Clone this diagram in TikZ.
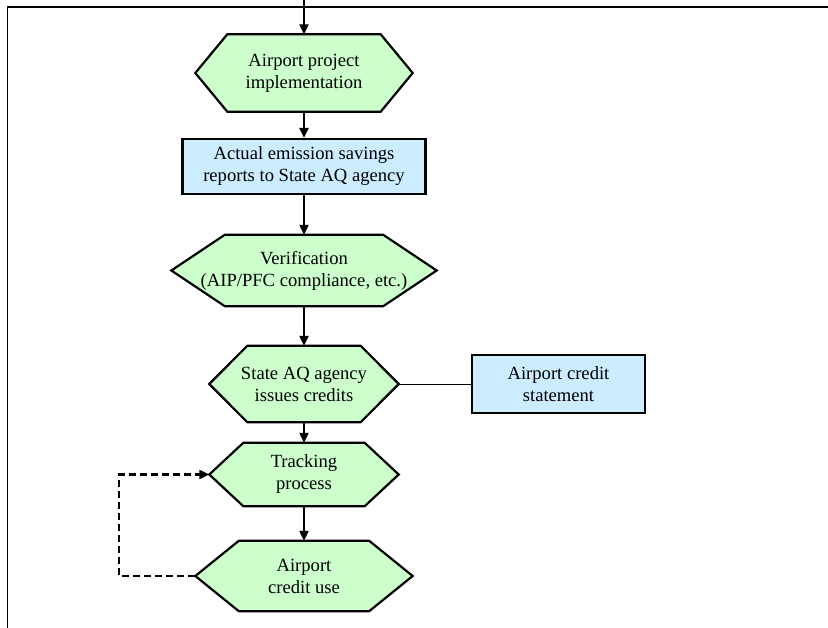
\documentclass[tikz,border=0pt]{standalone}
\usepackage{fontspec}
\setmainfont{Liberation Serif}
\usetikzlibrary{calc,arrows.meta,backgrounds}
\definecolor{hexgreen}{RGB}{204,255,204}
\definecolor{boxblue}{RGB}{204,236,255}
\newcommand{\thickness}{2.2pt}
\newcommand{\tip}{Triangle[length=10pt,width=9pt]}

\begin{document}
\begin{tikzpicture}[x=1pt,y=-1pt,
  hex/.style={inner sep=0pt,align=center,font=\fontsize{18.6}{22}\selectfont},
  box/.style={draw,fill=boxblue,line width=\thickness,inner sep=0pt,align=center,font=\fontsize{18.6}{22}\selectfont},
  flow/.style={line width=\thickness,-{\tip}}]
\useasboundingbox (0,0) rectangle (828,628);
\draw[line width=1.5pt] (7.5,628) -- (7.5,7) -- (828,7);
\coordinate (entry) at (304,0);
\node[hex,minimum width=217,minimum height=77] (impl) at (304,73) {Airport project\\implementation};
\node[box,minimum width=243,minimum height=55] (savings) at (304,166.5) {Actual emission savings\\reports to State AQ agency};
\node[hex,minimum width=265,minimum height=71] (verif) at (304,270.5) {Verification\\(AIP/PFC compliance, etc.)};
\node[hex,minimum width=189,minimum height=76] (issue) at (304,384) {State AQ agency\\issues credits};
\node[box,minimum width=173,minimum height=58] (stmt) at (558.5,384) {Airport credit\\statement};
\node[hex,minimum width=189,minimum height=63] (track) at (304,474.5) {Tracking\\process};
\node[hex,minimum width=217,minimum height=70] (use) at (304,576) {Airport\\credit use};
%hexagons
\begin{scope}[on background layer]
\filldraw[fill=hexgreen,line width=\thickness] (impl.west) -- ($(impl.north west)+(32,0)$) -- ($(impl.north east)+(-32,0)$) -- (impl.east) -- ($(impl.south east)+(-32,0)$) -- ($(impl.south west)+(32,0)$) -- cycle;
\filldraw[fill=hexgreen,line width=\thickness] (verif.west) -- ($(verif.north west)+(53.5,0)$) -- ($(verif.north east)+(-53.5,0)$) -- (verif.east) -- ($(verif.south east)+(-53.5,0)$) -- ($(verif.south west)+(53.5,0)$) -- cycle;
\filldraw[fill=hexgreen,line width=\thickness] (issue.west) -- ($(issue.north west)+(38,0)$) -- ($(issue.north east)+(-38,0)$) -- (issue.east) -- ($(issue.south east)+(-38,0)$) -- ($(issue.south west)+(38,0)$) -- cycle;
\filldraw[fill=hexgreen,line width=\thickness] (track.west) -- ($(track.north west)+(34,0)$) -- ($(track.north east)+(-34,0)$) -- (track.east) -- ($(track.south east)+(-34,0)$) -- ($(track.south west)+(34,0)$) -- cycle;
\filldraw[fill=hexgreen,line width=\thickness] (use.west) -- ($(use.north west)+(43.5,0)$) -- ($(use.north east)+(-43.5,0)$) -- (use.east) -- ($(use.south east)+(-43.5,0)$) -- ($(use.south west)+(43.5,0)$) -- cycle;
\end{scope}
%arrows
\draw[flow] (entry) -- (impl);
\draw[flow] (impl) -- (savings);
\draw[flow] (savings) -- (verif);
\draw[flow] (verif) -- (issue);
\draw[flow] (issue) -- (track);
\draw[flow] (track) -- (use);
\draw[line width=0.8pt] (issue.east) -- (stmt.west);
\draw[line width=\thickness,dash pattern=on 7pt off 4pt,-{\tip}] (use.west) -- ++(-76,0) |- (track.west);
\end{tikzpicture}
\end{document}
